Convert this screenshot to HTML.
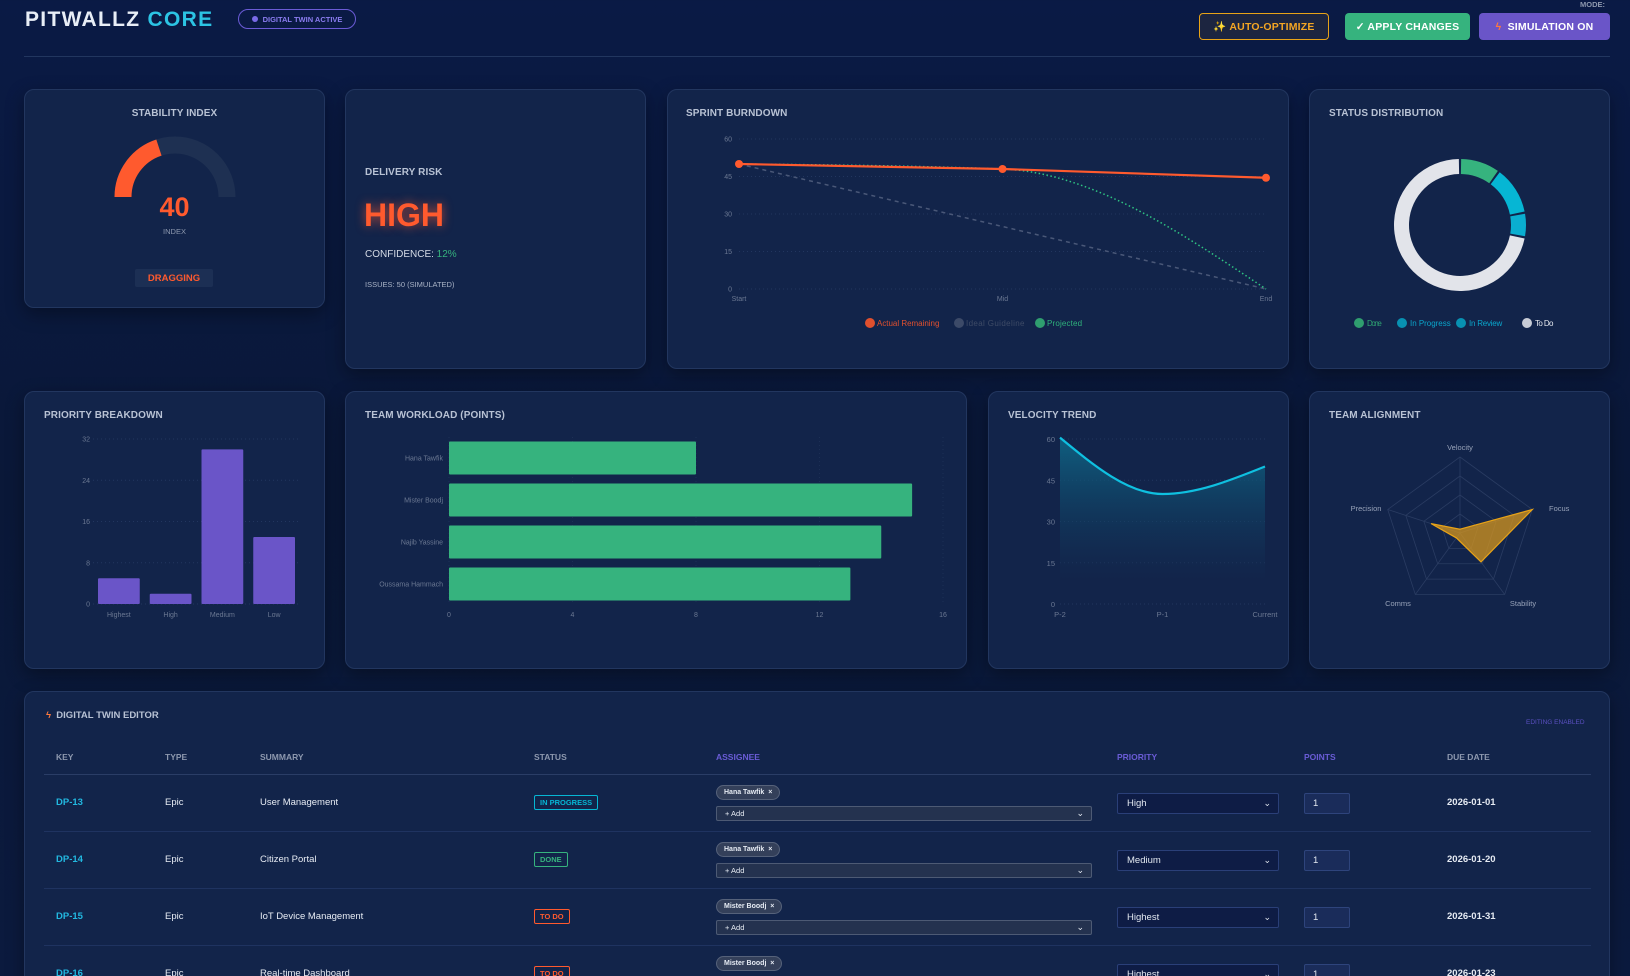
<!DOCTYPE html>
<html style="width:1630px;height:976px;overflow:hidden"><head><meta charset="utf-8">
<style>
*{box-sizing:border-box;margin:0;padding:0}
body{width:1630px;height:976px;overflow:hidden;background:linear-gradient(180deg,#0a1a45 0%,#0a1838 50%,#0b1a3e 100%);font-family:"Liberation Sans",sans-serif;color:#e2e8f0;position:relative}
.abs{position:absolute}
.card{position:absolute;background:#12244a;border:1px solid #22365f;border-radius:10px;box-shadow:0 6px 18px rgba(0,0,0,.35)}
.ct{position:absolute;font-size:10px;font-weight:bold;color:#b8c2d4;letter-spacing:.1px}
.btn{position:absolute;height:27px;border-radius:4px;font-size:10.5px;font-weight:bold;display:flex;align-items:center;justify-content:center;letter-spacing:.2px}
.th{position:absolute;top:752px;font-size:8.5px;font-weight:bold;color:#8d98ae}
.cell{position:absolute;font-size:9.5px;color:#e6ebf3}
.key{color:#22b8e0;font-weight:bold}
.badge{position:absolute;font-size:7.5px;font-weight:bold;padding:2px 5px;border:1px solid;border-radius:2px}
.chip{position:absolute;left:716px;height:15px;padding:0 7px;border-radius:8px;background:#34405a;border:1px solid #56627a;font-size:7px;font-weight:bold;display:flex;align-items:center;color:#e6ebf3}
.sel{position:absolute;height:15px;border:1px solid #4d5a74;background:#24324f;border-radius:2px;font-size:7.5px;color:#e6ebf3;display:flex;align-items:center;padding-left:8px}
.psel{position:absolute;left:1117px;width:162px;height:21px;background:#0e1c45;border:1px solid #2a3f78;border-radius:2px;font-size:9.5px;display:flex;align-items:center;padding-left:9px}
.pts{position:absolute;left:1304px;width:46px;height:21px;background:#1a2c5a;border:1px solid #2e447c;border-radius:2px;font-size:9.5px;display:flex;align-items:center;padding-left:8px}
.arr{position:absolute;right:7px;font-size:9px}
</style></head><body>
<div class="abs" style="left:25px;top:8px;font-size:21px;font-weight:bold;letter-spacing:1.3px;color:#e8eef6">PITWALLZ <span style="color:#2cc4e4">CORE</span></div>
<div class="abs" style="left:238px;top:9px;width:118px;height:20px;border:1px solid #6b5bd6;border-radius:10px;font-size:7.5px;font-weight:bold;color:#8b7cf0;display:flex;align-items:center;justify-content:center;gap:5px"><span style="width:6px;height:6px;border-radius:3px;background:#7a6ae8"></span>DIGITAL TWIN ACTIVE</div>
<div class="abs" style="left:1580px;top:0px;font-size:7.5px;font-weight:bold;color:#8d98ae">MODE:</div>
<div class="btn" style="left:1199px;top:13px;width:130px;border:1px solid #e8a317;color:#f5a623;background:#1c2540">✨ AUTO-OPTIMIZE</div>
<div class="btn" style="left:1345px;top:13px;width:125px;background:#36b37e;color:#fff">✓ APPLY CHANGES</div>
<div class="btn" style="left:1479px;top:13px;width:131px;background:#6a55c8;color:#fff"><span style="color:#ff7a3d">ϟ</span>&nbsp; SIMULATION ON</div>
<div class="abs" style="left:24px;top:56px;width:1586px;height:1px;background:#22365f"></div>

<div class="card" style="left:24px;top:89px;width:301px;height:219px"></div>
<div class="card" style="left:345px;top:89px;width:301px;height:280px"></div>
<div class="card" style="left:667px;top:89px;width:622px;height:280px"></div>
<div class="card" style="left:1309px;top:89px;width:301px;height:280px"></div>
<div class="card" style="left:24px;top:391px;width:301px;height:278px"></div>
<div class="card" style="left:345px;top:391px;width:622px;height:278px"></div>
<div class="card" style="left:988px;top:391px;width:301px;height:278px"></div>
<div class="card" style="left:1309px;top:391px;width:301px;height:278px"></div>
<div class="card" style="left:24px;top:691px;width:1586px;height:310px"></div>

<div class="ct" style="left:24px;width:301px;text-align:center;top:108px">STABILITY INDEX</div>
<div class="abs" style="left:24px;width:301px;text-align:center;top:192px;font-size:27px;font-weight:bold;color:#ff5a2e">40</div>
<div class="abs" style="left:24px;width:301px;text-align:center;top:227px;font-size:7.5px;color:#8d98ae">INDEX</div>
<div class="abs" style="left:135px;top:269px;width:78px;height:18px;background:#1c2f54;border-radius:2px;font-size:9.5px;font-weight:bold;color:#ff5a2e;display:flex;align-items:center;justify-content:center">DRAGGING</div>

<div class="ct" style="left:365px;top:167px">DELIVERY RISK</div>
<div class="abs" style="left:364px;top:197px;font-size:32px;font-weight:bold;color:#ff5a2e;text-shadow:0 0 10px rgba(255,90,46,.7)">HIGH</div>
<div class="abs" style="left:365px;top:249px;font-size:10px;color:#d5dbe6">CONFIDENCE: <span style="color:#36b37e">12%</span></div>
<div class="abs" style="left:365px;top:280px;font-size:7.5px;color:#a9b3c6">ISSUES: 50 (SIMULATED)</div>

<div class="ct" style="left:686px;top:108px">SPRINT BURNDOWN</div>
<div class="ct" style="left:1329px;top:108px">STATUS DISTRIBUTION</div>
<div class="ct" style="left:44px;top:410px">PRIORITY BREAKDOWN</div>
<div class="ct" style="left:365px;top:410px">TEAM WORKLOAD (POINTS)</div>
<div class="ct" style="left:1008px;top:410px">VELOCITY TREND</div>
<div class="ct" style="left:1329px;top:410px">TEAM ALIGNMENT</div>

<svg id="charts" class="abs" style="left:0;top:0" width="1630" height="976">
<defs><linearGradient id="vg" x1="0" y1="0" x2="0" y2="1"><stop offset="0" stop-color="#0e6a8a" stop-opacity=".85"/><stop offset="1" stop-color="#12244a" stop-opacity=".3"/></linearGradient></defs>
</svg>

<div class="abs" style="left:46px;top:710px;font-size:9.5px;font-weight:bold;color:#b8c2d4"><span style="color:#ff7a3d">ϟ</span>&nbsp; DIGITAL TWIN EDITOR</div>
<div class="abs" style="left:1526px;top:719px;font-size:6.5px;color:#5a4fc0">EDITING ENABLED</div>
<div class="th" style="left:56px">KEY</div>
<div class="th" style="left:165px">TYPE</div>
<div class="th" style="left:260px">SUMMARY</div>
<div class="th" style="left:534px">STATUS</div>
<div class="th" style="left:716px;color:#6a5cd6">ASSIGNEE</div>
<div class="th" style="left:1117px;color:#6a5cd6">PRIORITY</div>
<div class="th" style="left:1304px;color:#6a5cd6">POINTS</div>
<div class="th" style="left:1447px">DUE DATE</div>
<div id="rows"></div>

<script>
const svg=document.getElementById('charts');
const NS='http://www.w3.org/2000/svg';
function mk(tag,attrs,parent){const e=document.createElementNS(NS,tag);for(const k in attrs)e.setAttribute(k,attrs[k]);(parent||svg).appendChild(e);return e;}
function txt(x,y,s,attrs){const e=mk('text',Object.assign({x:x,y:y,'font-family':'Liberation Sans, sans-serif','font-size':7,fill:'#6b7892'},attrs||{}));e.textContent=s;return e;}
function mono(pts){const n=pts.length;const m=[],t=[];for(let i=0;i<n-1;i++)m.push((pts[i+1][1]-pts[i][1])/(pts[i+1][0]-pts[i][0]));
for(let i=1;i<n-1;i++){const h0=pts[i][0]-pts[i-1][0],h1=pts[i+1][0]-pts[i][0];const p=(m[i-1]*h1+m[i]*h0)/(h0+h1);t[i]=(Math.sign(m[i-1])+Math.sign(m[i]))*Math.min(Math.abs(m[i-1]),Math.abs(m[i]),0.5*Math.abs(p))||0;}
if(n>2){t[0]=(3*m[0]-t[1])/2;t[n-1]=(3*m[n-2]-t[n-2])/2;}else{t[0]=t[1]=m[0];}
let d='M'+pts[0][0]+','+pts[0][1];for(let i=0;i<n-1;i++){const h=pts[i+1][0]-pts[i][0];d+=' C'+(pts[i][0]+h/3)+','+(pts[i][1]+h*t[i]/3)+' '+(pts[i+1][0]-h/3)+','+(pts[i+1][1]-h*t[i+1]/3)+' '+pts[i+1][0]+','+pts[i+1][1];}return d;}

// ---------- data ----------
const stabilityValue=40;
const burnLabels=['Start','Mid','End'];
const burnActual=[50,48,44.5];
const burnIdeal=[50,25,0];
const burnProjected=[50,48,0];
const burnTicks=[0,15,30,45,60];
const statusLabels=['Done','In Progress','In Review','To Do'];
const statusValues=[5,6,3,36];
const priorityLabels=['Highest','High','Medium','Low'];
const priorityValues=[5,2,30,13];
const priorityTicks=[0,8,16,24,32];
const workloadNames=['Hana Tawfik','Mister Boodj','Najib Yassine','Oussama Hammach'];
const workloadValues=[8,15,14,13];
const workloadTicks=[0,4,8,12,16];
const velocityLabels=['P-2','P-1','Current'];
const velocityValues=[60.5,40,50];
const velocityTicks=[0,15,30,45,60];
const radarAxes=['Velocity','Focus','Stability','Comms','Precision'];
const radarValues=[5,100,47,8,40];

// ---------- gauge ----------
(function(){const cx=175,cy=197,r=52,w=17;
function arcPath(a0,a1){const p=a=>[cx+r*Math.cos(a),cy-r*Math.sin(a)];const s=p(a0),e=p(a1);return 'M'+s[0]+','+s[1]+' A'+r+','+r+' 0 0 1 '+e[0]+','+e[1];}
const tr=mk('path',{d:arcPath(Math.PI,0),fill:'none',stroke:'#1e3052','stroke-width':w});
const va=mk('path',{d:arcPath(Math.PI,Math.PI*(1-stabilityValue/100)),fill:'none',stroke:'#ff5a2e','stroke-width':w});})();

// ---------- burndown ----------
(function(){const x0=739,x1=1266,y0=289,y1=139;const X=i=>x0+(x1-x0)*i/(burnLabels.length-1);const Y=v=>y0-(y0-y1)*v/60;
burnTicks.forEach(t=>{mk('line',{x1:x0,x2:x1,y1:Y(t),y2:Y(t),stroke:'#22365f','stroke-dasharray':'1,3'});txt(x0-7,Y(t)+2.5,String(t),{'text-anchor':'end'});});
burnLabels.forEach((l,i)=>txt(X(i),301,l,{'text-anchor':'middle'}));
const ip=mk('path',{d:'M'+burnIdeal.map((v,i)=>X(i)+','+Y(v)).join(' L'),fill:'none',stroke:'#4a5878','stroke-width':1.5,'stroke-dasharray':'4,4'});
const pp=mk('path',{d:mono(burnProjected.map((v,i)=>[X(i),Y(v)])),fill:'none',stroke:'#2fc483','stroke-width':1.5,'stroke-dasharray':'1.5,2.5'});
const ap=mk('path',{d:'M'+burnActual.map((v,i)=>X(i)+','+Y(v)).join(' L'),fill:'none',stroke:'#ff5a2e','stroke-width':2.2});
burnActual.forEach((v,i)=>{const c=mk('circle',{cx:X(i),cy:Y(v),r:4,fill:'#ff5a2e'});});
const leg=[['Actual Remaining','#e0502e','#e0502e',877],['Ideal Guideline','#3c4a68','#3e4b66',966],['Projected','#2f9e6f','#2fb37c',1047]];
leg.forEach(l=>{mk('circle',{cx:l[3]-7,cy:323,r:5,fill:l[1]});const t=txt(l[3],326,l[0],{fill:l[2],'font-size':8,textLength:l[0].length*3.9});});})();

// ---------- donut ----------
(function(){const cx=1460,cy=225,ro=66,ri=51;const colors=['#36b37e','#06b6d4','#0aaed0','#e2e4ea'];const tot=statusValues.reduce((a,b)=>a+b,0);let a=0;
statusValues.forEach((v,i)=>{const a0=a/tot*2*Math.PI,a1=(a+v)/tot*2*Math.PI;a+=v;const g=0.035;const s=a0+g/2,e=a1-g/2;
const P=(r,t)=>[cx+r*Math.sin(t),cy-r*Math.cos(t)];const lg=(e-s)>Math.PI?1:0;const p1=P(ro,s),p2=P(ro,e),p3=P(ri,e),p4=P(ri,s);
const p=mk('path',{d:`M${p1} A${ro},${ro} 0 ${lg} 1 ${p2} L${p3} A${ri},${ri} 0 ${lg} 0 ${p4} Z`,fill:colors[i]});});
const lx=[1367,1410,1469,1535];const lc=['#2f9e6f','#0891b2','#0891b2','#c8ccd6'];const tc=['#2fa573','#0aa6cc','#0aa6cc','#e6e9ef'];
statusLabels.forEach((l,i)=>{mk('circle',{cx:lx[i]-8,cy:323,r:5,fill:lc[i]});const t=txt(lx[i],326,l,{fill:tc[i],'font-size':8,textLength:l.length*3.7});});})();

// ---------- priority bars ----------
(function(){const x0=93,x1=300,y0=604,y1=439;const bw=(x1-x0)/priorityLabels.length;const Y=v=>y0-(y0-y1)*v/32;
priorityTicks.forEach(t=>{mk('line',{x1:x0,x2:x1,y1:Y(t),y2:Y(t),stroke:'#22365f','stroke-dasharray':'1,3'});txt(x0-3,Y(t)+2.5,String(t),{'text-anchor':'end'});});
priorityValues.forEach((v,i)=>{const r=mk('rect',{x:x0+i*bw+5,y:Y(v),width:bw-10,height:y0-Y(v),fill:'#6a55c8',rx:1});
txt(x0+i*bw+bw/2,617,priorityLabels[i],{'text-anchor':'middle'});});})();

// ---------- workload ----------
(function(){const x0=449,x1=943,y0=437,y1=605;const X=v=>x0+(x1-x0)*v/16;const bh=(y1-y0)/workloadNames.length;
workloadTicks.forEach(t=>{mk('line',{x1:X(t),x2:X(t),y1:y0,y2:y1,stroke:'#1c2f55','stroke-dasharray':'1,3'});txt(X(t),617,String(t),{'text-anchor':'middle'});});
workloadValues.forEach((v,i)=>{const r=mk('rect',{x:x0,y:y0+i*bh+4.5,width:X(v)-x0,height:bh-9,fill:'#36b37e',rx:1});
txt(x0-6,y0+i*bh+bh/2+2.5,workloadNames[i],{'text-anchor':'end'});});})();

// ---------- velocity ----------
(function(){const x0=1060,x1=1265,y0=604,y1=439;const X=i=>x0+(x1-x0)*i/(velocityLabels.length-1);const Y=v=>y0-(y0-y1)*v/60;
velocityTicks.forEach(t=>{mk('line',{x1:x0,x2:x1,y1:Y(t),y2:Y(t),stroke:'#22365f','stroke-dasharray':'1,3'});txt(x0-5,Y(t)+3,String(t),{'text-anchor':'end','font-size':7.5});});
velocityLabels.forEach((l,i)=>txt(X(i),617,l,{'text-anchor':'middle','font-size':7.5}));
const d=mono(velocityValues.map((v,i)=>[X(i),Y(v)]));
const f=mk('path',{d:d+` L${X(velocityValues.length-1)},${Y(8)} L${X(0)},${Y(8)} Z`,fill:'url(#vg)'});
const l=mk('path',{d:d,fill:'none',stroke:'#0fc0e0','stroke-width':2.2});})();

// ---------- radar ----------
(function(){const cx=1460,cy=533,R=76;const n=radarAxes.length;const ang=i=>-Math.PI/2+i*2*Math.PI/n;const P=(r,i)=>[cx+r*Math.cos(ang(i)),cy+r*Math.sin(ang(i))];
[0.25,0.5,0.75,1].forEach(f=>{mk('polygon',{points:radarAxes.map((a,i)=>P(R*f,i).join(',')).join(' '),fill:'none',stroke:'#2a3c62','stroke-width':0.8});});
radarAxes.forEach((a,i)=>{const p=P(R,i);mk('line',{x1:cx,y1:cy,x2:p[0],y2:p[1],stroke:'#2a3c62','stroke-width':0.8});});
const lp=[[1460,450,'middle'],[1549,511,'start'],[1523,606,'middle'],[1398,606,'middle'],[1366,511,'middle']];
radarAxes.forEach((a,i)=>txt(lp[i][0],lp[i][1],a,{'text-anchor':lp[i][2],fill:'#97a2b8','font-size':7.5}));
const pg=mk('polygon',{points:radarValues.map((v,i)=>P(R*v/100,i).join(',')).join(' '),fill:'rgba(214,150,30,.75)',stroke:'#e8a317','stroke-width':1.2});})();

// ---------- table ----------
const rows=[['DP-13','Epic','User Management','IN PROGRESS','#06b6d4','Hana Tawfik','High','2026-01-01'],
['DP-14','Epic','Citizen Portal','DONE','#36b37e','Hana Tawfik','Medium','2026-01-20'],
['DP-15','Epic','IoT Device Management','TO DO','#ff5a2e','Mister Boodj','Highest','2026-01-31'],
['DP-16','Epic','Real-time Dashboard','TO DO','#ff5a2e','Mister Boodj','Highest','2026-01-23']];
let html='<div class="abs" style="left:44px;top:774px;width:1547px;height:1px;background:#2a3d66"></div>';
rows.forEach((r,i)=>{const c=803+i*57;
html+=`<div class="cell key" style="left:56px;top:${c-6}px">${r[0]}</div>
<div class="cell" style="left:165px;top:${c-6}px">${r[1]}</div>
<div class="cell" style="left:260px;top:${c-6}px">${r[2]}</div>
<div class="badge" style="left:534px;top:${c-8}px;color:${r[4]};border-color:${r[4]}">${r[3]}</div>
<div class="chip" style="top:${c-18}px">${r[5]} &nbsp;×</div>
<div class="sel" style="left:716px;width:376px;top:${c+3}px">+ Add<span class="arr">⌄</span></div>
<div class="psel" style="top:${c-10}px">${r[6]}<span class="arr">⌄</span></div>
<div class="pts" style="top:${c-10}px">1</div>
<div class="cell" style="left:1447px;top:${c-6}px;font-weight:bold">${r[7]}</div>`;
if(i<3)html+=`<div class="abs" style="left:44px;top:${c+28}px;width:1547px;height:1px;background:#1f3360"></div>`;});
document.getElementById('rows').innerHTML=html;
</script>
</body></html>
